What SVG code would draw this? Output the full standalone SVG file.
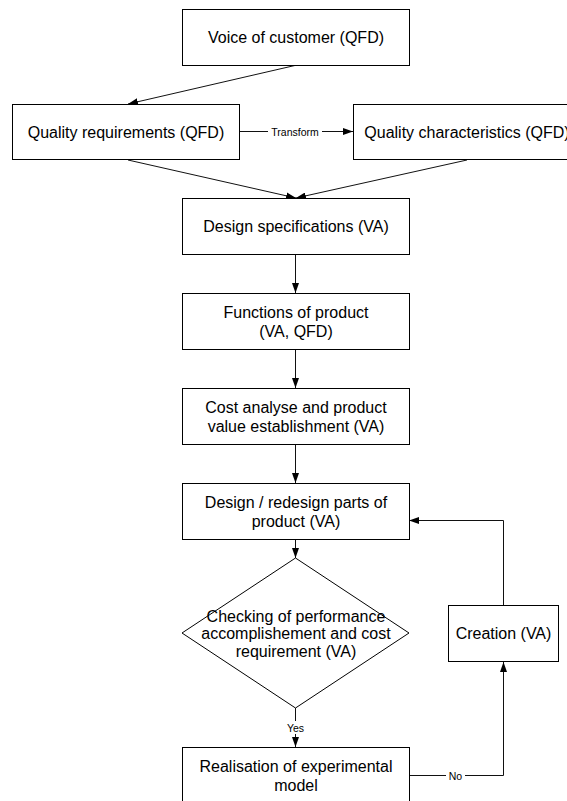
<svg xmlns="http://www.w3.org/2000/svg" width="567" height="801" viewBox="0 0 567 801">
<style>
.box{fill:#fff;stroke:#000;stroke-width:1}
.t{font-family:"Liberation Sans",Arial,sans-serif;font-size:16px;fill:#000;text-anchor:middle}
.lbl{font-family:"Liberation Sans",Arial,sans-serif;font-size:10.5px;fill:#000;text-anchor:middle}
.c{fill:none;stroke:#111;stroke-width:1}
</style>
<defs>
<marker id="ah" markerUnits="userSpaceOnUse" markerWidth="10" markerHeight="7" refX="10" refY="3.5" orient="auto">
<path d="M0,0 L10,3.5 L0,7 z" fill="#000"/>
</marker>
</defs>
<rect width="567" height="801" fill="#fff"/>
<g id="connectors">
<line class="c" x1="297" y1="65" x2="128" y2="104" marker-end="url(#ah)"/>
<line class="c" x1="239" y1="131.5" x2="268" y2="131.5"/>
<line class="c" x1="322" y1="131.5" x2="353" y2="131.5" marker-end="url(#ah)"/>
<line class="c" x1="128" y1="160" x2="296" y2="198" marker-end="url(#ah)"/>
<line class="c" x1="467" y1="160" x2="296" y2="198" marker-end="url(#ah)"/>
<line class="c" x1="295.5" y1="254" x2="295.5" y2="293" marker-end="url(#ah)"/>
<line class="c" x1="295.5" y1="349" x2="295.5" y2="388" marker-end="url(#ah)"/>
<line class="c" x1="295.5" y1="444" x2="295.5" y2="483" marker-end="url(#ah)"/>
<line class="c" x1="295.5" y1="539" x2="295.5" y2="558" marker-end="url(#ah)"/>
<line class="c" x1="295.5" y1="708" x2="295.5" y2="721"/>
<line class="c" x1="295.5" y1="734" x2="295.5" y2="747" marker-end="url(#ah)"/>
<polyline class="c" points="409,775.5 446,775.5"/>
<polyline class="c" points="465,775.5 503.5,775.5 503.5,662" marker-end="url(#ah)"/>
<polyline class="c" points="503.5,605 503.5,520.5 409,520.5" marker-end="url(#ah)"/>
<text class="lbl" x="295" y="135.5">Transform</text>
<text class="lbl" x="295.5" y="731.5">Yes</text>
<text class="lbl" x="455.5" y="779.5">No</text>
</g>
<g id="voice">
<rect class="box" x="182.5" y="9.5" width="227" height="56"/>
<text class="t" x="296" y="43">Voice of customer (QFD)</text>
</g>
<g id="qreq">
<rect class="box" x="12.5" y="104.5" width="227" height="55"/>
<text class="t" x="126" y="137.5">Quality requirements (QFD)</text>
</g>
<g id="qchar">
<rect class="box" x="353.5" y="104.5" width="227" height="55"/>
<text class="t" x="467" y="137.5">Quality characteristics (QFD)</text>
</g>
<g id="designspec">
<rect class="box" x="182.5" y="198.5" width="227" height="56"/>
<text class="t" x="296" y="232">Design specifications (VA)</text>
</g>
<g id="functions">
<rect class="box" x="182.5" y="293.5" width="227" height="56"/>
<text class="t" x="296" y="317.5">Functions of product</text>
<text class="t" x="296" y="336.5">(VA, QFD)</text>
</g>
<g id="cost">
<rect class="box" x="182.5" y="388.5" width="227" height="56"/>
<text class="t" x="296" y="412.5">Cost analyse and product</text>
<text class="t" x="296" y="431.5">value establishment (VA)</text>
</g>
<g id="redesign">
<rect class="box" x="182.5" y="483.5" width="227" height="56"/>
<text class="t" x="296" y="507.5">Design / redesign parts of</text>
<text class="t" x="296" y="526.5">product (VA)</text>
</g>
<g id="check">
<polygon class="box" points="295.5,558 409,633 295.5,708 182,633"/>
<text class="t" x="296" y="621.5">Checking of performance</text>
<text class="t" x="296" y="639">accomplishement and cost</text>
<text class="t" x="296" y="656.5">requirement (VA)</text>
</g>
<g id="creation">
<rect class="box" x="448.5" y="605.5" width="110" height="56"/>
<text class="t" x="503.5" y="639">Creation (VA)</text>
</g>
<g id="realisation">
<rect class="box" x="182.5" y="747.5" width="227" height="56"/>
<text class="t" x="296" y="772">Realisation of experimental</text>
<text class="t" x="296" y="790.5">model</text>
</g>
</svg>
